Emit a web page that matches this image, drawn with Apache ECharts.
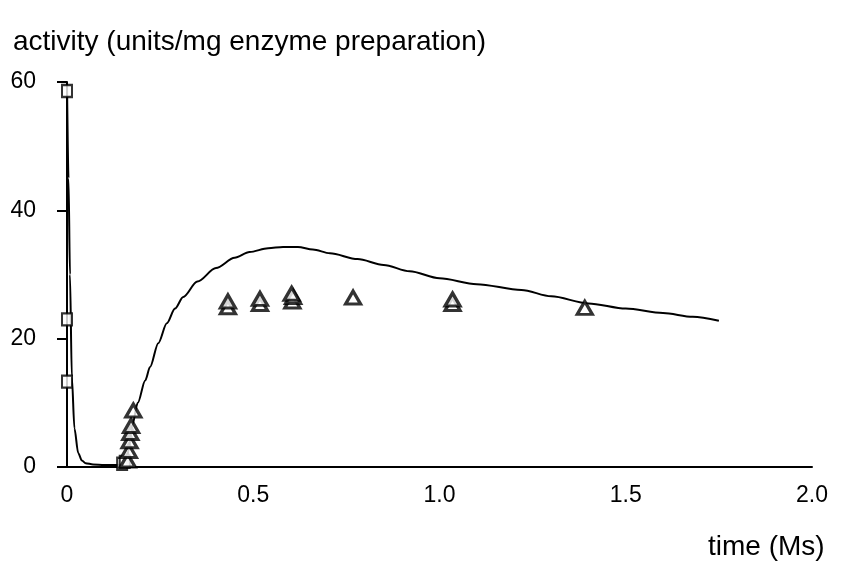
<!DOCTYPE html>
<html><head><meta charset="utf-8">
<script src="https://cdn.jsdelivr.net/npm/echarts@6/dist/echarts.min.js"></script>
<style>html,body{margin:0;padding:0;background:#fff}#c{width:841px;height:575px}</style>
</head><body><div id="c"></div>
<script>
var xTicks = [0, 0.5, 1.0, 1.5, 2.0];
var yTicks = [0, 20, 40, 60];
var squares = [[0,58.6],[0,23.0],[0,13.3],[0.148,0.5],[0.155,0.8]];
var triangles = [[0.163,1.0],[0.166,2.5],[0.168,4.0],[0.170,5.3],[0.172,6.4],[0.178,8.8],
  [0.432,24.9],[0.432,25.8],[0.518,25.4],[0.518,26.2],[0.605,25.8],[0.607,26.5],[0.603,27.0],
  [0.768,26.4],[1.035,25.4],[1.035,26.1],[1.39,24.8]];
var curveX = [0,0.004,0.008,0.013,0.02,0.03,0.04,0.05,0.07,0.1,0.13,0.155,0.16,0.165,0.175,0.19,0.21,0.223,0.245,0.268,0.29,0.312,0.35,0.40,0.45,0.49,0.54,0.58,0.62,0.66,0.706,0.78,0.85,0.92,1.0,1.1,1.22,1.3,1.4,1.5,1.6,1.68,1.75];
var curveY = [60,45,30,14,6,2.2,1.0,0.6,0.4,0.3,0.3,0.4,0.9,2.5,6.5,10,13.5,15.6,19.3,22.4,24.7,26.5,28.9,31,32.6,33.5,34.1,34.3,34.3,33.9,33.3,32.4,31.5,30.5,29.4,28.5,27.6,26.6,25.5,24.7,24.0,23.4,22.8];
var curve = curveX.map(function(x,i){return [x, curveY[i]];});

var chart = echarts.init(document.getElementById('c'), null, {renderer:'canvas'});
var txt = '#000';
chart.setOption({
  animation:false,
  backgroundColor:'#fff',
  title:[
    {text:'activity (units/mg enzyme preparation)', left:8, top:23,
     textStyle:{fontFamily:'Liberation Sans', fontSize:28, fontWeight:'normal', color:txt}},
    {text:'time (Ms)', left:703, top:528,
     textStyle:{fontFamily:'Liberation Sans', fontSize:28, fontWeight:'normal', color:txt}}
  ],
  grid:{left:67, right:29, top:82, bottom:108, containLabel:false},
  xAxis:{type:'value', min:0, max:2.0, interval:0.5,
    axisLine:{show:true, lineStyle:{color:'#000', width:2}},
    axisTick:{show:false}, splitLine:{show:false},
    axisLabel:{margin:17, color:txt, fontFamily:'Liberation Sans', fontSize:23,
      customValues: xTicks,
      formatter:function(v){return v===0?'0':v.toFixed(1);}}
  },
  yAxis:{type:'value', min:0, max:60, interval:20,
    axisLine:{show:true, lineStyle:{color:'#000', width:2}},
    axisTick:{show:true, inside:false, length:10, lineStyle:{color:'#000', width:2}},
    splitLine:{show:false},
    axisLabel:{margin:31, color:txt, fontFamily:'Liberation Sans', fontSize:23,
      customValues: yTicks}
  },
  series:[
    {type:'line', data:curve, smooth:0.3, smoothMonotone:'x', showSymbol:false, symbol:'none',
     lineStyle:{color:'#000', width:2}, z:2},
    {type:'scatter', data:squares, symbol:'rect', symbolSize:[10,12],
     itemStyle:{color:'#fff', borderColor:'#000', borderWidth:2.2}, z:3},
    {type:'scatter', data:triangles, symbol:'triangle', symbolSize:[15,13],
     itemStyle:{color:'#fff', borderColor:'#000', borderWidth:3.2}, z:3}
  ]
});
</script></body></html>
